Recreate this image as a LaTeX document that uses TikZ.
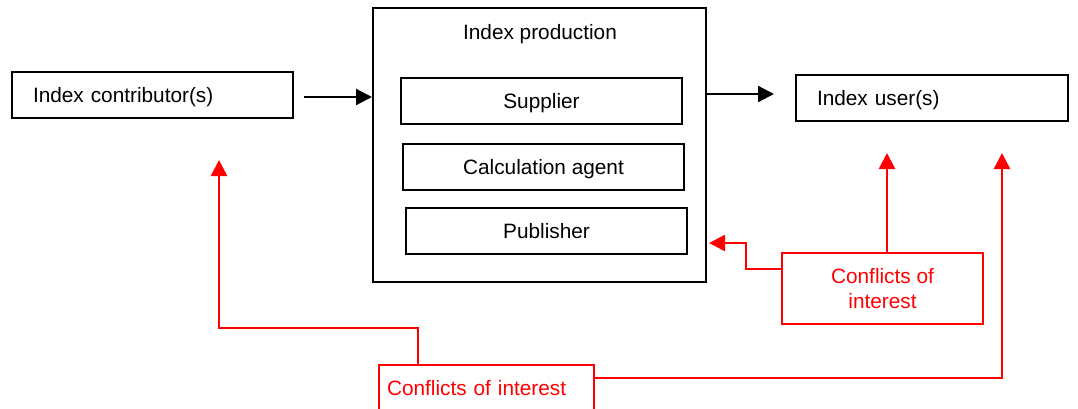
\documentclass[tikz,border=0pt]{standalone}
\usepackage{fontspec}
\setmainfont{Liberation Sans}
\usetikzlibrary{arrows.meta,calc}
\definecolor{cred}{RGB}{255,0,0}
\begin{document}
\begin{tikzpicture}[x=1pt,y=-1pt,
  every node/.style={font=\fontsize{20.8}{25}\selectfont},
  ctext/.style={text height=19pt,text depth=4pt},
  bbox/.style={draw,line width=2pt,minimum height=46pt,inner sep=0pt,ctext},
  lbox/.style={bbox,inner xsep=21pt,align=left},
  rbox/.style={draw=cred,text=cred,line width=2pt,inner sep=0pt},
  arr/.style={line width=2.2pt,-{Triangle[length=16pt,width=16pt]}},
  rarr/.style={draw=cred,line width=2.5pt,-{Triangle[length=16pt,width=16pt]},color=cred}]
\useasboundingbox (0,0) rectangle (1078,408);
\clip (0,0) rectangle (1078,408);
% nodes
\node[lbox,text width=239pt] (contrib) at (152.5,95) {Index contributor(s)};
\node[lbox,text width=230pt] (user) at (932,97.5) {Index user(s)};
\node[draw,line width=2pt,minimum width=333pt,minimum height=274pt,inner sep=0pt] (main) at (539.5,145) {};
\node[ctext,inner sep=0pt] (title) at (540,32) {Index production};
\node[bbox,minimum width=281pt] (supplier) at (541.5,101) {Supplier};
\node[bbox,minimum width=281pt] (calc) at (543.5,167) {Calculation agent};
\node[bbox,minimum width=281pt] (pub) at (546.5,231) {Publisher};
\node[rbox,minimum width=201pt,minimum height=71pt,align=center] (coi1) at (882.5,288.5) {Conflicts of\\interest};
\node[rbox,ctext,minimum height=46pt,text width=199pt,inner xsep=8pt,align=left] (coi2) at (486.5,388) {Conflicts of interest};
% coordinates
\coordinate (a1) at (304,97);
\coordinate (a2) at (774,94);
\coordinate (c1) at (709,243);
\coordinate (c2) at (887,153);
\coordinate (c3) at (1002,153);
\coordinate (c4) at (219,160);
% black arrows
\draw[arr] (a1) -- (a1 -| main.west);
\draw[arr] (a2 -| main.east) -- (a2);
% red connectors
\draw[rarr] (coi1.west |- 0,269) -- (746,269) -- (746,243) -- (c1);
\draw[rarr] (c2 |- coi1.north) -- (c2);
\draw[rarr] (coi2.east |- 0,378) -- (1002,378) -- (c3);
\draw[rarr] (418,364) -- (418,328) -- (219,328) -- (c4);
\end{tikzpicture}
\end{document}
